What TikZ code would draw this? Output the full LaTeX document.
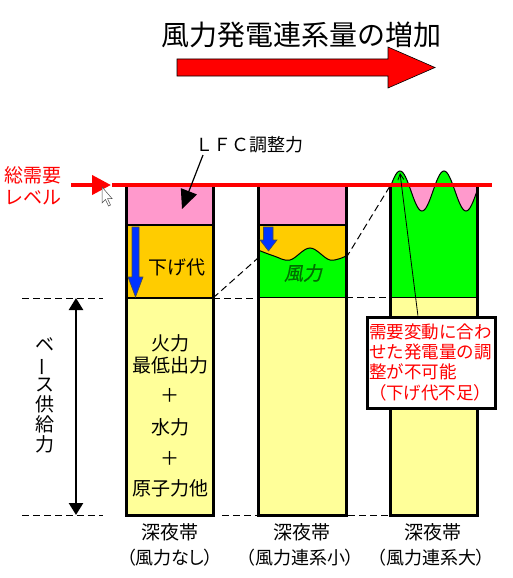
\documentclass[tikz,border=0pt]{standalone}
\usepackage{fontspec}
\setmainfont{Noto Sans CJK JP}
\newfontfamily\jpp[RawFeature=+palt]{Noto Sans CJK JP}
\newfontfamily\jpit[FakeSlant=0.2,FakeBold=0.6]{Noto Sans CJK JP}
\usetikzlibrary{arrows.meta,calc}
\definecolor{pinkc}{RGB}{255,153,204}
\definecolor{orangec}{RGB}{255,204,0}
\definecolor{yellowc}{RGB}{255,255,153}
\definecolor{greenc}{RGB}{0,255,0}
\definecolor{bluec}{RGB}{0,51,255}
\definecolor{darkgreenc}{RGB}{0,110,0}
\tikzset{
  colborder/.style={line width=3pt},
  divline/.style={line width=1.5pt},
  dashline/.style={dash pattern=on 7pt off 4pt, line width=1pt},
  jt/.style={inner sep=0pt, font=\fontsize{19pt}{21pt}\selectfont},
  redt/.style={inner sep=0pt, text=red, font=\fontsize{17.5pt}{20pt}\selectfont},
  bluearrow/.style={fill=bluec, draw=black!70, line width=0.6pt},
  redline/.style={draw=red, line width=4pt},
}
\begin{document}
\begin{tikzpicture}[x=1pt,y=-1pt]
\useasboundingbox (0,0) rectangle (513,578);

% title and big arrow
\node[inner sep=0pt, font=\fontsize{28pt}{30pt}\selectfont] (title) at (301,35) {風力発電連系量の増加};
\draw[fill=red, draw=black, line width=0.6pt] (177,59) -- (388,59) -- (388,47) -- (435,67.5) -- (388,88) -- (388,76) -- (177,76) -- cycle;

% ---- column 1
\fill[pinkc] (126,185) rectangle (213,225);
\fill[orangec] (126,225) rectangle (213,298);
\fill[yellowc] (126,298) rectangle (213,515);
\draw[divline] (126,225) -- (213,225);
\draw[divline] (126,298) -- (213,298);
\draw[colborder] (126,185) -- (126,515) -- (213,515) -- (213,185);
\draw[bluearrow] (132,227) -- (139,227) -- (139,277) -- (143,277) -- (135.5,297) -- (128,277) -- (132,277) -- cycle;
\node[jt] (sage) at (177,267) {下げ代};
\node[jt] (c1a) at (170,343) {火力};
\node[jt] (c1b) at (170,365) {最低出力};
\node[jt] (c1c) at (170,395) {＋};
\node[jt] (c1d) at (170,427) {水力};
\node[jt] (c1e) at (170,458) {＋};
\node[jt] (c1f) at (170,488) {原子力他};

% ---- column 2
\fill[pinkc] (258,185) rectangle (346,225);
\fill[orangec] (258,225) rectangle (346,265);
\fill[greenc] plot[smooth, tension=0.6] coordinates {(258,250) (274,256) (290,260) (310,248) (330,260) (346,256)} -- (346,297) -- (258,297) -- cycle;
\draw[line width=1pt] plot[smooth, tension=0.6] coordinates {(258,250) (274,256) (290,260) (310,248) (330,260) (346,256)};
\fill[yellowc] (258,297) rectangle (346,515);
\draw[divline] (258,225) -- (346,225);
\draw[line width=1pt] (258,297) -- (346,297);
\draw[colborder] (258,185) -- (258,515) -- (346,515) -- (346,185);
\draw[bluearrow] (263.5,227) -- (273,227) -- (273,240) -- (277,240) -- (268.5,251) -- (260,240) -- (263.5,240) -- cycle;
\node[inner sep=0pt, text=darkgreenc, font=\jpit\fontsize{19pt}{21pt}\selectfont] (wind) at (303,273) {風力};

% ---- column 3
\fill[pinkc] (390,185) rectangle (477,215);
\fill[greenc] plot[domain=390:477, samples=80] (\x, {191 - 20*cos((\x-400)/44*360)}) -- (477,297) -- (390,297) -- cycle;
\draw[line width=1pt] plot[domain=390:477, samples=80] (\x, {191 - 20*cos((\x-400)/44*360)});
\fill[yellowc] (390,297) rectangle (477,515);
\draw[line width=1pt] (390,297) -- (477,297);
\draw[colborder] (390,187) -- (390,515) -- (477,515) -- (477,187);

% ---- dashed guide lines
\draw[dashline] (22,298) -- (103,298);
\draw[dashline] (213,298) -- (258,298);
\draw[dashline] (346,297) -- (390,297);
\draw[dashline] (22,515) -- (103,515);
\draw[dashline] (222,515) -- (258,515);
\draw[dashline] (348,515) -- (390,515);
\draw[dashline] (213,298) -- (258,258);
\draw[dashline] (346,258) -- (390,186);

% ---- base supply arrow
\coordinate (baseTop) at (76,298);
\coordinate (baseBot) at (76,515);
\draw[line width=2.5pt, {Triangle[length=12pt,width=14pt]}-{Triangle[length=12pt,width=14pt]}] (baseTop) -- (baseBot);
\node[jt, align=center, font=\fontsize{19pt}{20pt}\selectfont] (base) at (45,395) {ベ\\\rotatebox[origin=c]{90}{ー}\\ス\\供\\給\\力};

% ---- demand level
\node[inner sep=0pt, text=red, align=left, anchor=west, font=\fontsize{19pt}{22pt}\selectfont] (lvl) at (4,186) {総需要\\レベル};
\coordinate (lvlTip) at (111,185);
\draw[red, line width=4pt, -{Triangle[length=19pt,width=19pt]}] ([xshift=10pt]lvl.east |- lvlTip) -- (lvlTip);
\coordinate (demandL) at (112,185);
\coordinate (demandR) at (492,185);
\draw[redline] (demandL) -- (demandR);
% mouse cursor
\draw[fill=white, draw=black!70, line width=0.5pt] (102,187) -- (102,203) -- (105.5,199.5) -- (108.5,206) -- (110.5,205) -- (107.5,198.5) -- (112,198.5) -- cycle;

% ---- LFC label
\node[inner sep=0pt, font=\fontsize{18pt}{20pt}\selectfont] (lfc) at (249,145) {ＬＦＣ調整力};
\coordinate (lfcTip) at (182,209);
\draw[line width=1.2pt, -{Triangle[length=19pt,width=17pt]}] (203,155) -- (lfcTip);

% ---- warning box
\node[draw, line width=3pt, fill=white, minimum width=128pt, minimum height=91pt, inner sep=0pt] (warn) at (431,362.5) {};
\coordinate (peak) at (400,173);
\draw[line width=0.8pt, -{Straight Barb[length=6pt,width=6pt]}] ($(warn.north west)!0.40!(warn.north east)$) -- (peak);
\node[redt, anchor=west] (w1) at (369,332) {需要変動に合わ};
\node[redt, anchor=west] (w2) at (369,352) {せた発電量の調};
\node[redt, anchor=west] (w3) at (369,372) {整が不可能};
\node[redt, font=\jpp\fontsize{17.5pt}{20pt}\selectfont] (w4) at (430,393) {（下げ代不足）};

% ---- bottom labels
\node[jt] (b1a) at (170,532) {深夜帯};
\node[jt, font=\jpp\fontsize{18pt}{20pt}\selectfont] (b1b) at (170,558) {（風力なし）};
\node[jt] (b2a) at (302,532) {深夜帯};
\node[jt, font=\jpp\fontsize{18pt}{20pt}\selectfont] (b2b) at (300,558) {（風力連系小）};
\node[jt] (b3a) at (433,532) {深夜帯};
\node[jt, font=\jpp\fontsize{18pt}{20pt}\selectfont] (b3b) at (431,558) {（風力連系大）};
\end{tikzpicture}
\end{document}
